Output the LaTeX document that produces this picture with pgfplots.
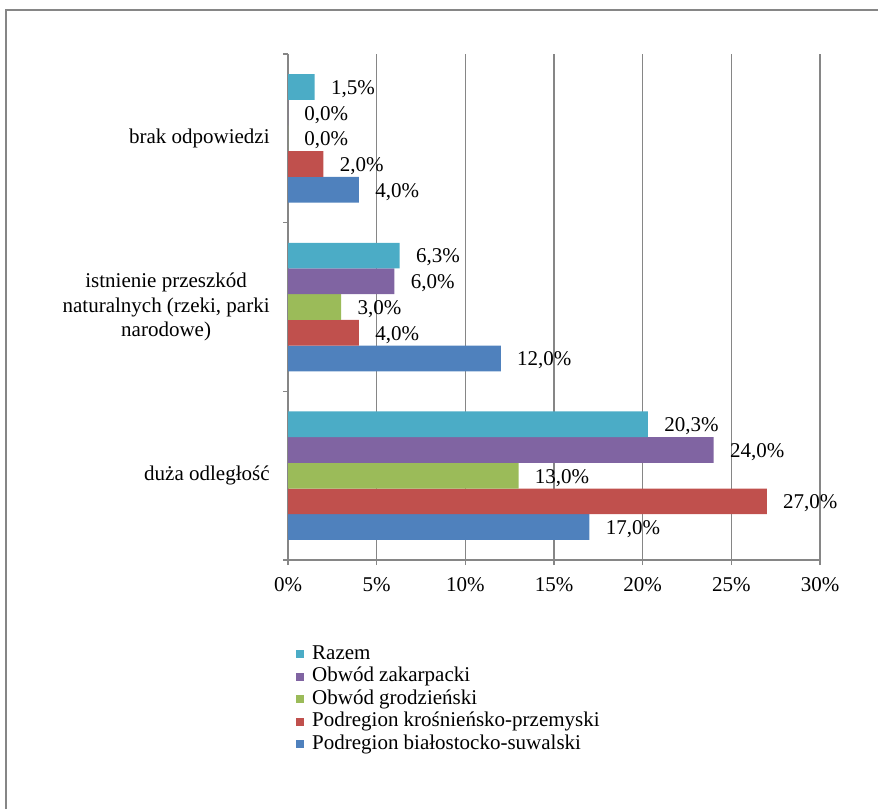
\documentclass[border=0pt]{standalone}
\usepackage{fontspec}
\setmainfont{Liberation Serif}
\usepackage{pgfplots}
\pgfplotsset{compat=1.18}

\definecolor{razem}{HTML}{4BACC6}
\definecolor{zakarp}{HTML}{8064A2}
\definecolor{grodz}{HTML}{9BBB59}
\definecolor{krosn}{HTML}{C0504D}
\definecolor{bialy}{HTML}{4F81BD}
\definecolor{gridgray}{RGB}{134,134,134}

\begin{document}
\fontsize{10.5}{12.3}\selectfont
\begin{tikzpicture}
\useasboundingbox (0,0) rectangle (439pt,404.5pt);
% ramka (widoczne tylko lewa i gorna krawedz)
\draw[gridgray, line width=1pt] (3pt,0) -- (3pt,399.5pt) -- (439pt,399.5pt);
\begin{axis}[
    at={(144pt,124.5pt)}, anchor=south west,
    scale only axis,
    width=266pt, height=253pt,
    xbar=0pt, bar width=12.85pt,
    xmin=0, xmax=30, ymin=-0.5, ymax=2.5,
    enlargelimits=false,
    xtick={0,5,...,30},
    xticklabels={0\%,5\%,10\%,15\%,20\%,25\%,30\%},
    xticklabel style={inner sep=0pt, yshift=-6pt},
    ytick={-0.5,0.5,1.5,2.5}, yticklabels={},
    extra y ticks={0,1,2},
    extra y tick labels={duża odległość,{istnienie przeszkód\\naturalnych (rzeki, parki\\narodowe)},brak odpowiedzi},
    extra y tick style={tick style={draw=none}, grid=none},
    yticklabel style={align=center, inner sep=0pt, xshift=-6.5pt},
    axis x line*=bottom, axis y line*=left,
    axis line style={gridgray, line width=0.6pt, -},
    tick style={gridgray, line width=0.6pt},
    tick align=outside, major tick length=2.5pt,
    xmajorgrids, grid style={gridgray, line width=0.6pt},
    /pgf/number format/assume math mode=true,
    point meta=x,
    nodes near coords={\pgfmathprintnumber[fixed,fixed zerofill,precision=1,use comma]{\pgfplotspointmeta}\%},
    every node near coord/.append style={anchor=west, inner sep=0pt, xshift=8pt, yshift=-1pt, black},
    reverse legend,
    legend cell align=left,
    legend image code/.code={\fill[#1] (0pt,-1.5pt) rectangle (4pt,2.5pt);},
    legend style={at={(0.015,-0.165)}, anchor=north west, draw=none, fill=none,
        inner sep=0pt, row sep=0pt, column sep=3.9pt,
        nodes={inner sep=0pt, text height=7.6pt, text depth=3.65pt}},
]
    % Podregion bialostocko-suwalski
    \addplot[fill=bialy, draw=none] coordinates {(17.0,0) (12.0,1) (4.0,2)};
    % Podregion krosniensko-przemyski
    \addplot[fill=krosn, draw=none] coordinates {(27.0,0) (4.0,1) (2.0,2)};
    % Obwod grodzienski
    \addplot[fill=grodz, draw=none] coordinates {(13.0,0) (3.0,1) (0.0,2)};
    % Obwod zakarpacki
    \addplot[fill=zakarp, draw=none] coordinates {(24.0,0) (6.0,1) (0.0,2)};
    % Razem
    \addplot[fill=razem, draw=none] coordinates {(20.3,0) (6.3,1) (1.5,2)};

    \legend{Podregion białostocko-suwalski, Podregion krośnieńsko-przemyski,
        Obwód grodzieński, Obwód zakarpacki, Razem}
\end{axis}
\end{tikzpicture}
\end{document}
